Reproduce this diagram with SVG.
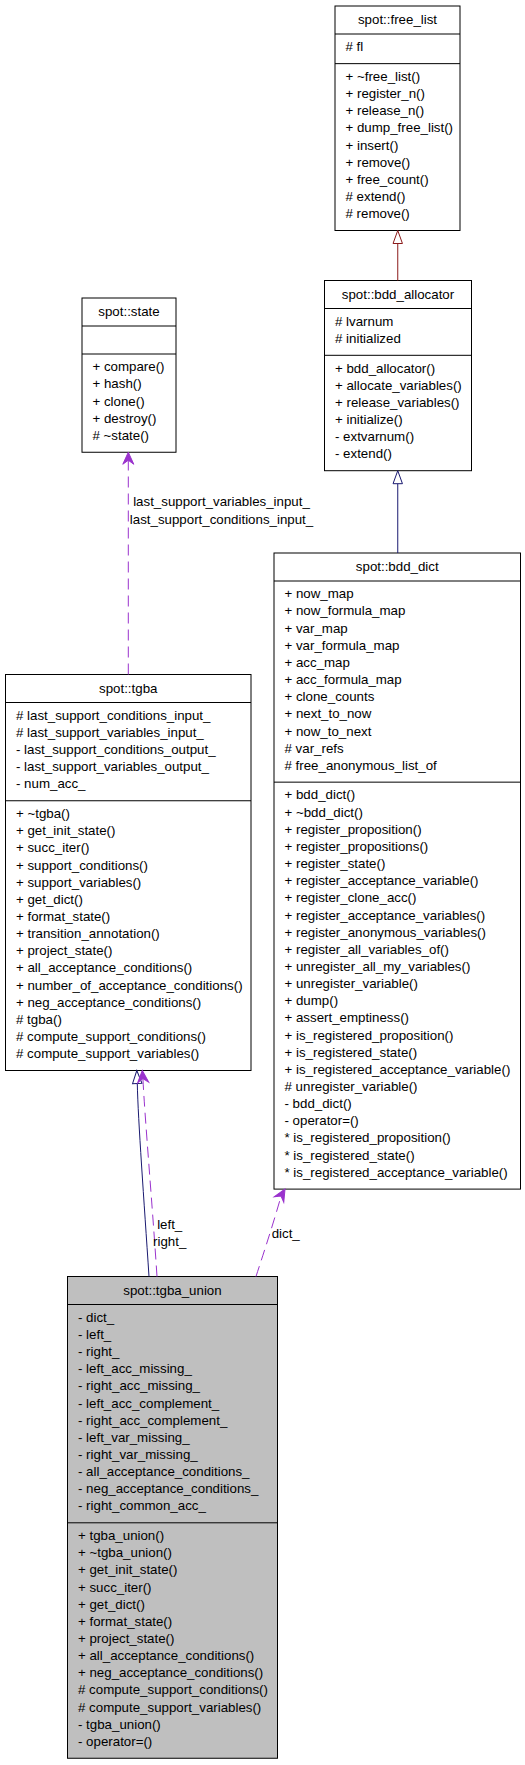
<svg xmlns="http://www.w3.org/2000/svg" width="525" height="1765" viewBox="0 0 525 1765">
<style>
.box{fill:#fff;stroke:#000;stroke-width:1}
.grey{fill:#bfbfbf}
line{stroke:#000;stroke-width:1}
text{font-family:"Liberation Sans",Arial,Helvetica,sans-serif;font-size:13.3px;fill:#000}
.t,.lbl{text-anchor:middle}
.inh-priv{fill:none;stroke:#8b1a1a;stroke-width:1}
.inh-pub{fill:none;stroke:#191970;stroke-width:1}
.tri-priv{fill:#fff;stroke:#8b1a1a;stroke-width:1}
.tri-pub{fill:#fff;stroke:#191970;stroke-width:1}
.use{fill:none;stroke:#9a32cd;stroke-width:1;stroke-dasharray:11,6}
.vee{fill:#9a32cd;stroke:#9a32cd;stroke-width:1}
</style>
<defs>
<polygon id="tri" points="0,0 4.7,13 -4.7,13"/>
<polygon id="vee" points="0,0 5.5,12 0,8 -5.5,12"/>
</defs>
<rect width="525" height="1765" fill="#fff"/>

<g id="free_list">
<rect class="box" x="335" y="6" width="125" height="224.5"/>
<line x1="335" y1="34" x2="460" y2="34"/>
<line x1="335" y1="63.65" x2="460" y2="63.65"/>
<text class="t" x="397.5" y="24">spot::free_list</text>
<text x="345.5" y="51.3"># fl</text>
<text x="345.5" y="80.95"><tspan>+ ~free_list()</tspan><tspan x="345.5" dy="17.15">+ register_n()</tspan><tspan x="345.5" dy="17.15">+ release_n()</tspan><tspan x="345.5" dy="17.15">+ dump_free_list()</tspan><tspan x="345.5" dy="17.15">+ insert()</tspan><tspan x="345.5" dy="17.15">+ remove()</tspan><tspan x="345.5" dy="17.15">+ free_count()</tspan><tspan x="345.5" dy="17.15"># extend()</tspan><tspan x="345.5" dy="17.15"># remove()</tspan></text>
</g>

<g id="bdd_allocator">
<rect class="box" x="324.5" y="280.5" width="147" height="190.2"/>
<line x1="324.5" y1="308.5" x2="471.5" y2="308.5"/>
<line x1="324.5" y1="355.3" x2="471.5" y2="355.3"/>
<text class="t" x="398" y="298.5">spot::bdd_allocator</text>
<text x="335" y="325.8"><tspan># lvarnum</tspan><tspan x="335" dy="17.15"># initialized</tspan></text>
<text x="335" y="372.6"><tspan>+ bdd_allocator()</tspan><tspan x="335" dy="17.15">+ allocate_variables()</tspan><tspan x="335" dy="17.15">+ release_variables()</tspan><tspan x="335" dy="17.15">+ initialize()</tspan><tspan x="335" dy="17.15">- extvarnum()</tspan><tspan x="335" dy="17.15">- extend()</tspan></text>
</g>

<g id="state">
<rect class="box" x="82" y="298" width="94" height="154.25"/>
<line x1="82" y1="326" x2="176" y2="326"/>
<line x1="82" y1="354" x2="176" y2="354"/>
<text class="t" x="129" y="316">spot::state</text>
<text x="92.5" y="371.3"><tspan>+ compare()</tspan><tspan x="92.5" dy="17.15">+ hash()</tspan><tspan x="92.5" dy="17.15">+ clone()</tspan><tspan x="92.5" dy="17.15">+ destroy()</tspan><tspan x="92.5" dy="17.15"># ~state()</tspan></text>
</g>

<g id="tgba">
<rect class="box" x="5.5" y="674.5" width="245.5" height="396"/>
<line x1="5.5" y1="702.5" x2="251" y2="702.5"/>
<line x1="5.5" y1="800.75" x2="251" y2="800.75"/>
<text class="t" x="128.25" y="692.5">spot::tgba</text>
<text x="16" y="719.8"><tspan># last_support_conditions_input_</tspan><tspan x="16" dy="17.15"># last_support_variables_input_</tspan><tspan x="16" dy="17.15">- last_support_conditions_output_</tspan><tspan x="16" dy="17.15">- last_support_variables_output_</tspan><tspan x="16" dy="17.15">- num_acc_</tspan></text>
<text x="16" y="818.05"><tspan>+ ~tgba()</tspan><tspan x="16" dy="17.15">+ get_init_state()</tspan><tspan x="16" dy="17.15">+ succ_iter()</tspan><tspan x="16" dy="17.15">+ support_conditions()</tspan><tspan x="16" dy="17.15">+ support_variables()</tspan><tspan x="16" dy="17.15">+ get_dict()</tspan><tspan x="16" dy="17.15">+ format_state()</tspan><tspan x="16" dy="17.15">+ transition_annotation()</tspan><tspan x="16" dy="17.15">+ project_state()</tspan><tspan x="16" dy="17.15">+ all_acceptance_conditions()</tspan><tspan x="16" dy="17.15">+ number_of_acceptance_conditions()</tspan><tspan x="16" dy="17.15">+ neg_acceptance_conditions()</tspan><tspan x="16" dy="17.15"># tgba()</tspan><tspan x="16" dy="17.15"># compute_support_conditions()</tspan><tspan x="16" dy="17.15"># compute_support_variables()</tspan></text>
</g>

<g id="bdd_dict">
<rect class="box" x="274" y="553" width="246.5" height="636.1"/>
<line x1="274" y1="581" x2="520.5" y2="581"/>
<line x1="274" y1="782.15" x2="520.5" y2="782.15"/>
<text class="t" x="397.25" y="571">spot::bdd_dict</text>
<text x="284.5" y="598.3"><tspan>+ now_map</tspan><tspan x="284.5" dy="17.15">+ now_formula_map</tspan><tspan x="284.5" dy="17.15">+ var_map</tspan><tspan x="284.5" dy="17.15">+ var_formula_map</tspan><tspan x="284.5" dy="17.15">+ acc_map</tspan><tspan x="284.5" dy="17.15">+ acc_formula_map</tspan><tspan x="284.5" dy="17.15">+ clone_counts</tspan><tspan x="284.5" dy="17.15">+ next_to_now</tspan><tspan x="284.5" dy="17.15">+ now_to_next</tspan><tspan x="284.5" dy="17.15"># var_refs</tspan><tspan x="284.5" dy="17.15"># free_anonymous_list_of</tspan></text>
<text x="284.5" y="799.45"><tspan>+ bdd_dict()</tspan><tspan x="284.5" dy="17.15">+ ~bdd_dict()</tspan><tspan x="284.5" dy="17.15">+ register_proposition()</tspan><tspan x="284.5" dy="17.15">+ register_propositions()</tspan><tspan x="284.5" dy="17.15">+ register_state()</tspan><tspan x="284.5" dy="17.15">+ register_acceptance_variable()</tspan><tspan x="284.5" dy="17.15">+ register_clone_acc()</tspan><tspan x="284.5" dy="17.15">+ register_acceptance_variables()</tspan><tspan x="284.5" dy="17.15">+ register_anonymous_variables()</tspan><tspan x="284.5" dy="17.15">+ register_all_variables_of()</tspan><tspan x="284.5" dy="17.15">+ unregister_all_my_variables()</tspan><tspan x="284.5" dy="17.15">+ unregister_variable()</tspan><tspan x="284.5" dy="17.15">+ dump()</tspan><tspan x="284.5" dy="17.15">+ assert_emptiness()</tspan><tspan x="284.5" dy="17.15">+ is_registered_proposition()</tspan><tspan x="284.5" dy="17.15">+ is_registered_state()</tspan><tspan x="284.5" dy="17.15">+ is_registered_acceptance_variable()</tspan><tspan x="284.5" dy="17.15"># unregister_variable()</tspan><tspan x="284.5" dy="17.15">- bdd_dict()</tspan><tspan x="284.5" dy="17.15">- operator=()</tspan><tspan x="284.5" dy="17.15">* is_registered_proposition()</tspan><tspan x="284.5" dy="17.15">* is_registered_state()</tspan><tspan x="284.5" dy="17.15">* is_registered_acceptance_variable()</tspan></text>
</g>

<g id="tgba_union">
<rect class="box grey" x="67.5" y="1276.5" width="210" height="481.75"/>
<line x1="67.5" y1="1304.5" x2="277.5" y2="1304.5"/>
<line x1="67.5" y1="1522.8" x2="277.5" y2="1522.8"/>
<text class="t" x="172.5" y="1294.5">spot::tgba_union</text>
<text x="78" y="1321.8"><tspan>- dict_</tspan><tspan x="78" dy="17.15">- left_</tspan><tspan x="78" dy="17.15">- right_</tspan><tspan x="78" dy="17.15">- left_acc_missing_</tspan><tspan x="78" dy="17.15">- right_acc_missing_</tspan><tspan x="78" dy="17.15">- left_acc_complement_</tspan><tspan x="78" dy="17.15">- right_acc_complement_</tspan><tspan x="78" dy="17.15">- left_var_missing_</tspan><tspan x="78" dy="17.15">- right_var_missing_</tspan><tspan x="78" dy="17.15">- all_acceptance_conditions_</tspan><tspan x="78" dy="17.15">- neg_acceptance_conditions_</tspan><tspan x="78" dy="17.15">- right_common_acc_</tspan></text>
<text x="78" y="1540.1"><tspan>+ tgba_union()</tspan><tspan x="78" dy="17.15">+ ~tgba_union()</tspan><tspan x="78" dy="17.15">+ get_init_state()</tspan><tspan x="78" dy="17.15">+ succ_iter()</tspan><tspan x="78" dy="17.15">+ get_dict()</tspan><tspan x="78" dy="17.15">+ format_state()</tspan><tspan x="78" dy="17.15">+ project_state()</tspan><tspan x="78" dy="17.15">+ all_acceptance_conditions()</tspan><tspan x="78" dy="17.15">+ neg_acceptance_conditions()</tspan><tspan x="78" dy="17.15"># compute_support_conditions()</tspan><tspan x="78" dy="17.15"># compute_support_variables()</tspan><tspan x="78" dy="17.15">- tgba_union()</tspan><tspan x="78" dy="17.15">- operator=()</tspan></text>
</g>

<g id="connectors">
<path class="inh-priv" d="M397.75,280.5 V243.5"/>
<use href="#tri" class="tri-priv" transform="translate(397.75,230.5)"/>
<path class="inh-pub" d="M397.75,553 V483.7"/>
<use href="#tri" class="tri-pub" transform="translate(397.75,470.7)"/>
<path class="use" d="M128.3,674.5 V460"/>
<use href="#vee" class="vee" transform="translate(128.3,452.25)"/>
<text class="lbl" x="221.5" y="505.5">last_support_variables_input_</text>
<text class="lbl" x="221.5" y="523.5">last_support_conditions_input_</text>
<path class="inh-pub" d="M149,1276.5 C144,1200 138,1120 137.3,1083.5"/>
<use href="#tri" class="tri-pub" transform="translate(136.8,1070.5) rotate(-2)"/>
<path class="use" d="M157,1276.5 C152,1200 145,1120 142.9,1078.5"/>
<use href="#vee" class="vee" transform="translate(142.3,1070.5) rotate(-4)"/>
<text class="lbl" x="169.7" y="1228.5">left_</text>
<text class="lbl" x="169.7" y="1245.5">right_</text>
<path class="use" d="M256,1276.5 C262,1258 272,1228 281,1196.4"/>
<use href="#vee" class="vee" transform="translate(285,1189.1) rotate(30)"/>
<text class="lbl" x="285.7" y="1237.8">dict_</text>
</g>
</svg>
